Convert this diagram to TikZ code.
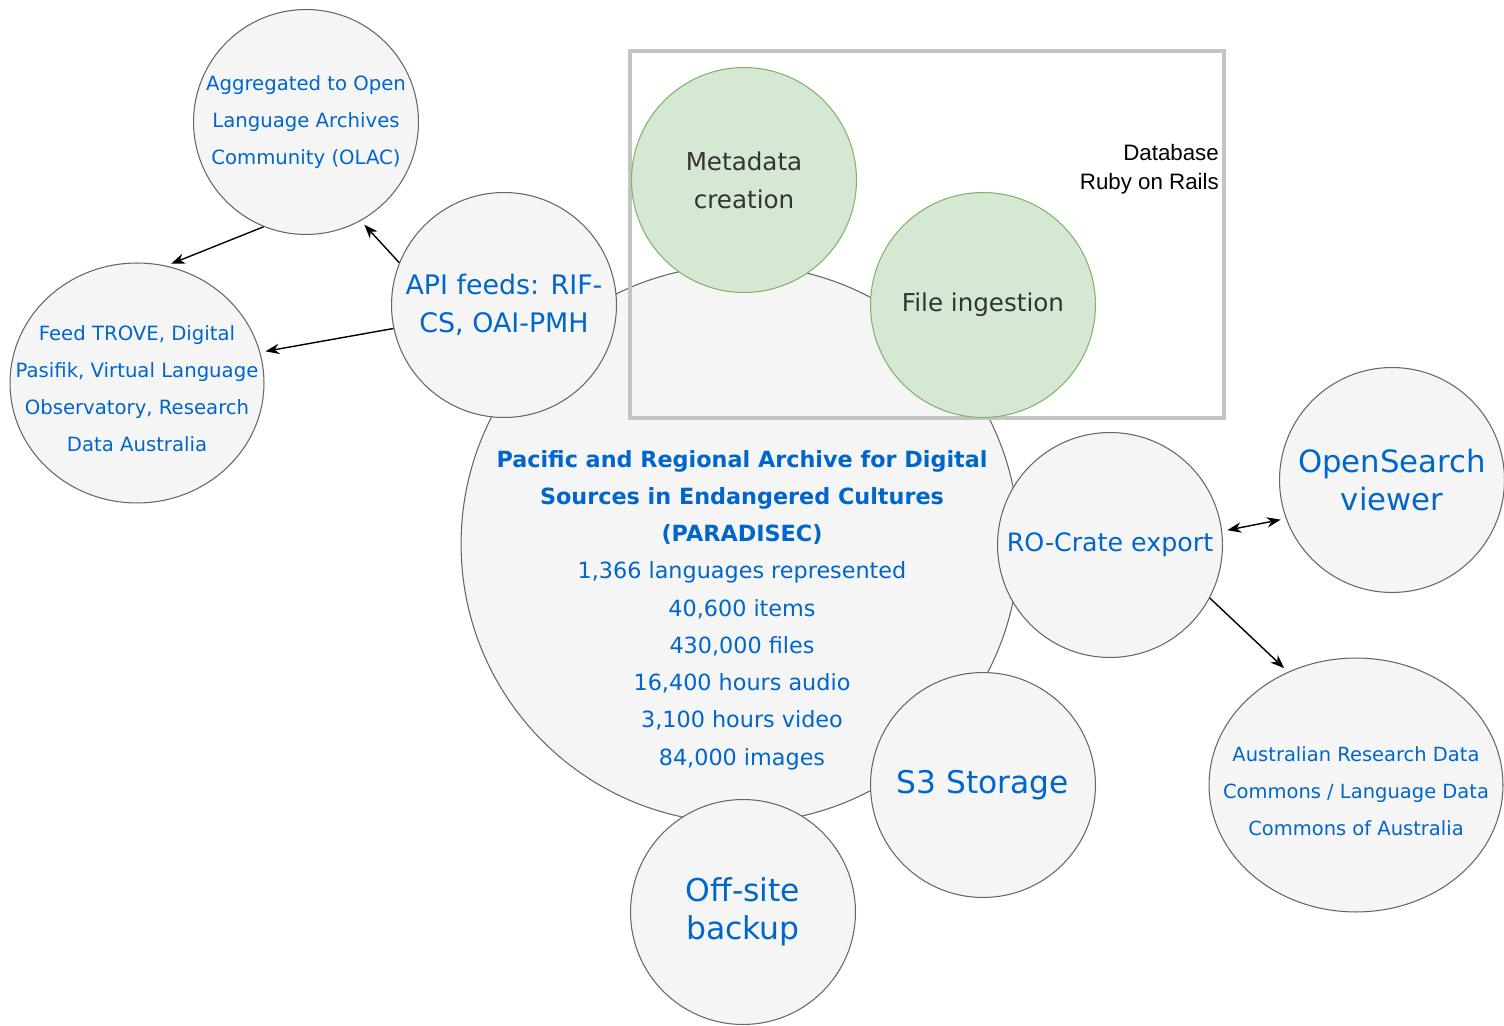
\documentclass[tikz,border=0pt]{standalone}
\usepackage{fontspec}
\setmainfont{DejaVu Sans}
\newfontfamily\railsfont{Liberation Sans}
\usetikzlibrary{positioning, shapes.geometric, arrows.meta}
\definecolor{bub-fill}{HTML}{F5F5F5}
\definecolor{bub-line}{HTML}{666666}
\definecolor{txt-blue}{HTML}{0066CC}
\definecolor{green-fill}{HTML}{D5E8D4}
\definecolor{green-line}{HTML}{82B366}
\definecolor{box-gray}{HTML}{C4C4C4}

\begin{document}
\begin{tikzpicture}[x=0.02cm, y=-0.02cm]
				\tikzset{bubble/.style={circle, draw=bub-line, fill=bub-fill, line width=0.6pt, inner sep=0pt, align=center, text=txt-blue, minimum size=4.5cm}}
				\tikzset{work/.style={circle, draw=green-line, fill=green-fill, line width=0.6pt, inner sep=0pt, align=center, text=black!80, minimum size=4.5cm, font=\fontsize{14}{21.6}\selectfont}}
				\tikzset{blurb/.style={text=txt-blue, align=center, inner sep=0pt}}
				\tikzset{arr/.style={-{Stealth[scale=1.2]}, line width=0.8pt, shorten >=3pt}}
				\useasboundingbox (0,0) rectangle (1504,1026);
				% main archive
				\node[bubble, minimum size=11.16cm] (paradisec) at (740,544) {};
				\node[blurb, font=\fontsize{12.7}{21.2}\selectfont] (paradisec text) at (742,610)
				{\textbf{Pacific and Regional Archive for Digital}\\ \textbf{Sources in Endangered Cultures}\\ \textbf{(PARADISEC)}\\
				1,366 languages represented\\ 40,600 items\\ 430,000 files\\ 16,400 hours audio\\ 3,100 hours video\\ 84,000 images};
				\draw[box-gray, line width=2.3pt] (630,51) rectangle (1224,418);
				\node[work] (metadata) at (744,180) {Metadata\\creation};
				\node[work] (ingest) at (983,305) {File ingestion};
				\node[anchor=east, align=right, font=\railsfont\fontsize{12.7}{16.5}\selectfont] (db) at (1225,169) {Database\\Ruby on Rails};
				% outputs
				\node[bubble, font=\fontsize{15.3}{21.6}\selectfont] (api) at (504,305) {API feeds: RIF-\\CS, OAI-PMH};
				\node[bubble, font=\fontsize{11.2}{21}\selectfont] (olac) at (306,122) {Aggregated to Open\\Language Archives\\Community (OLAC)};
				\node[bubble, ellipse, minimum width=5.08cm, minimum height=4.8cm] (trove) at (137,383) {};
				\node[blurb, font=\fontsize{11.2}{21}\selectfont] (trove text) at (137,389)
				{Feed TROVE, Digital\\Pasifik, Virtual Language\\Observatory, Research\\Data Australia};
				\node[bubble, font=\fontsize{14.4}{21.6}\selectfont] (rocrate) at (1110,545) {RO-Crate export};
				\node[bubble, font=\fontsize{17.5}{21.6}\selectfont] (opensearch) at (1392,480) {OpenSearch\\viewer};
				\node[bubble, ellipse, minimum width=5.88cm, minimum height=5.08cm] (ardc) at (1356,785) {};
				\node[blurb, font=\fontsize{11.1}{21}\selectfont] (ardc text) at (1356,791)
				{Australian Research Data\\Commons / Language Data\\Commons of Australia};
				\node[bubble, font=\fontsize{17.8}{21.6}\selectfont] (s3) at (983,785) {S3 Storage};
				\node[bubble, font=\fontsize{17.9}{21.6}\selectfont] (backup) at (743,912) {Off-site\\backup};
				% connectors
				\draw[arr] (api.158) -- (olac.-61);
				\draw[arr] (olac.-112) -- (trove.76);
				\draw[arr] (api.192) -- (trove.14);
				\draw[arr, {Stealth[scale=1.2]}-{Stealth[scale=1.2]}, shorten <=3pt] (rocrate.7) -- (opensearch.200);
				\draw[arr] (rocrate.-28) -- (ardc.121);
\end{tikzpicture}
\end{document}
